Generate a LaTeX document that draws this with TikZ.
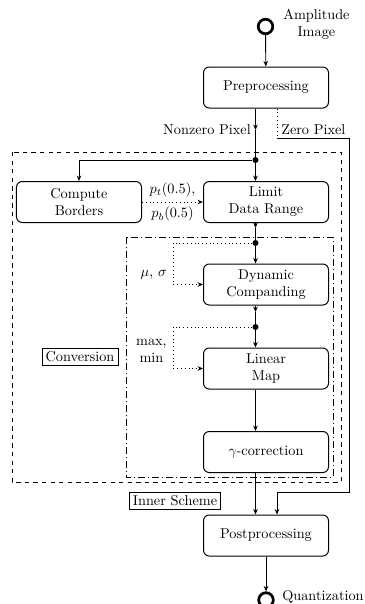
\documentclass[tikz,border=0pt]{standalone}
\usetikzlibrary{arrows.meta,calc}
\begin{document}
\begin{tikzpicture}[x=0.7pt,y=-0.7pt,
  box/.style={draw, rounded corners=4pt, minimum width=87.5pt, minimum height=28.7pt, align=center, inner sep=0pt, line width=0.7pt},
  conn/.style={line width=0.65pt},
  arr/.style={conn,-{Stealth[length=3.8pt,width=3.2pt]}},
  darr/.style={conn,dotted,-{Stealth[length=3.8pt,width=3.2pt]}},
  src/.style={circle, draw, line width=1.9pt, minimum size=10.2pt, inner sep=0pt},
  tag/.style={draw, line width=0.55pt, inner sep=2.5pt},
  junc/.style={circle, fill, inner sep=0pt, minimum size=4.2pt},
  outerframe/.style={conn, dashed},
  innerframe/.style={conn, dash pattern=on 5pt off 2pt on 0.8pt off 2pt}]
\useasboundingbox (0,0) rectangle (364,604);

% frames
\draw[outerframe] (12,152) rectangle (341,482);
\draw[innerframe] (126,237) rectangle (333,477);

% nodes
\node[src] (amp) at (265.5,26.5) {};
\node[anchor=west, align=center, inner sep=0pt] (ampl) at (283,24) {Amplitude\\Image};
\node[box] (pre) at (266,87.5) {Preprocessing};
\node[box] (cb) at (79,202) {Compute\\Borders};
\node[box] (ldr) at (266,202) {Limit\\Data Range};
\node[box] (dc) at (266,284.5) {Dynamic\\Companding};
\node[box] (lm) at (266,368.5) {Linear\\Map};
\node[box] (gc) at (266,452) {$\gamma$-correction};
\node[box] (post) at (266,535.5) {Postprocessing};
\node[src] (qz) at (266,600) {};
\node[anchor=west, inner sep=0pt] (qzl) at (282,597) {Quantization};

\node[tag] (conv) at (80,357) {Conversion};
\node[tag] (inner) at (175,501) {Inner Scheme};

% junctions and helper coordinates
\coordinate (nzp) at (255.5,130);
\node[junc] (d1) at (255.5,160) {};
\coordinate (zp) at (277,138);
\coordinate (zr1) at (349,138);
\coordinate (zr2) at (349,492);
\coordinate (zr3) at (277,492);
\coordinate (la) at (255.5,228);
\node[junc] (d2) at (255.5,243) {};
\coordinate (ms) at (173,243);
\coordinate (lb) at (255.5,312);
\node[junc] (d3) at (255.5,327) {};
\coordinate (mm) at (173,327);

% connectors
\draw[arr] (amp) -- (pre);
\draw[arr] (pre.south -| nzp) -- (nzp) node[anchor=east, inner sep=0pt, xshift=-3pt] {Nonzero Pixel};
\draw[conn] (nzp) -- (d1);
\draw[conn, dotted] (pre.south -| zp) -- (zp);
\node[anchor=west, inner sep=0pt] (zpl) at (281,130) {Zero Pixel};
\draw[arr] (zp) -- (zr1) -- (zr2) -- (zr3) -- (post.north -| zr3);

\draw[arr] (d1) -- (ldr.north -| d1);
\draw[arr] (d1) -| (cb.north);
\draw[darr] (cb) -- (ldr) node[midway, above] {$p_t(0.5)$,} node[midway, below] {$p_b(0.5)$};

\draw[arr] (ldr.south -| la) -- (la);
\draw[conn] (la) -- (d2);
\draw[arr] (d2) -- (dc.north -| d2);
\draw[darr] (d2) -- (ms) |- (dc.west);
\node[anchor=east, inner sep=0pt] (msl) at (167,275) {$\mu$, $\sigma$};

\draw[arr] (dc.south -| lb) -- (lb);
\draw[conn] (lb) -- (d3);
\draw[arr] (d3) -- (lm.north -| d3);
\draw[darr] (d3) -- (mm) |- (lm.west);
\node[anchor=east, align=center, inner sep=0pt] (mml) at (167,350.5) {max,\\min};

\draw[arr] (lm.south -| d3) -- (gc.north -| d3);
\draw[arr] (gc.south -| d3) -- (post.north -| d3);
\draw[arr] (post) -- (qz);
\end{tikzpicture}
\end{document}
